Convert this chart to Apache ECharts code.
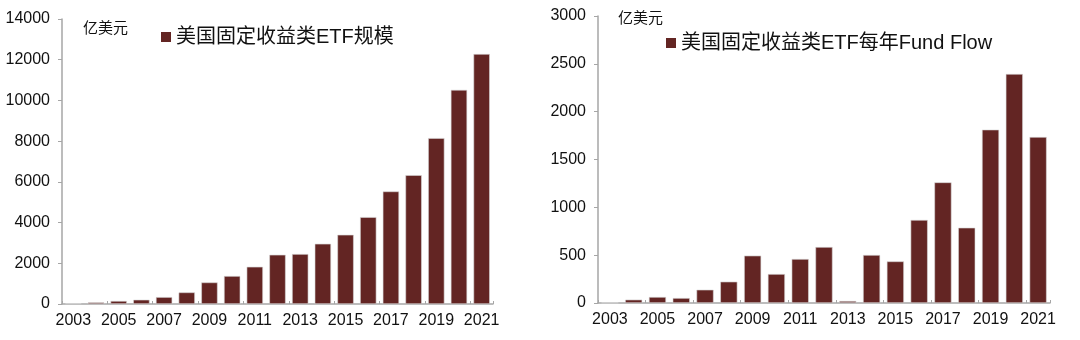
<!DOCTYPE html>
<html><head><meta charset="utf-8">
<script src="https://cdn.jsdelivr.net/npm/echarts@6/dist/echarts.min.js"></script>
<style>html,body{margin:0;padding:0;background:#fff}#c{width:1080px;height:340px}</style>
</head><body><div id="c"></div>
<script>
const years = ['2003','2004','2005','2006','2007','2008','2009','2010','2011','2012','2013','2014','2015','2016','2017','2018','2019','2020','2021'];
const aumValues = [30,80,150,210,340,570,1060,1375,1830,2420,2455,2960,3400,4270,5530,6330,8150,10520,12280];
const flowValues = [3,35,63,52,139,223,495,303,460,585,21,502,435,868,1261,787,1812,2394,1735];
const leftName = '美国固定收益类ETF规模';
const rightName = '美国固定收益类ETF每年Fund Flow';
const unit = '亿美元';

const FONT = '"Liberation Sans", Arial, "Noto Sans CJK SC", sans-serif';
const BAR = '#632523';
const AX = '#a6a6a6';

function xAxis(gi){
  return {type:'category', gridIndex:gi, data:years, boundaryGap:true,
    axisLine:{lineStyle:{color:AX,width:1.5}},
    axisTick:{show:true, inside:true, length:3, interval:1, lineStyle:{color:AX}},
    axisLabel:{interval:1, color:'#111', fontSize:16, fontFamily:FONT, margin:9}};
}
function yAxis(gi,max,step){
  return {type:'value', gridIndex:gi, min:0, max:max, interval:step,
    splitLine:{show:false},
    axisLine:{show:true, lineStyle:{color:AX,width:1.5}},
    axisTick:{show:true, length:4, lineStyle:{color:AX}},
    axisLabel:{color:'#111', fontSize:16, fontFamily:FONT, margin:12, formatter:(v)=>String(v)}};
}
const chart = echarts.init(document.getElementById('c'), null, {renderer:'canvas'});
chart.setOption({
  animation:false,
  textStyle:{fontFamily:FONT},
  grid:[{left:62, top:19, width:431, bottom:36},{left:598, top:16, width:452, bottom:37}],
  xAxis:[xAxis(0), xAxis(1)],
  yAxis:[yAxis(0,14000,2000), yAxis(1,3000,500)],
  title:[
    {text:unit, left:78, top:16, textStyle:{fontSize:15, fontWeight:'normal', color:'#111', fontFamily:FONT}},
    {text:unit, left:613, top:6, textStyle:{fontSize:15, fontWeight:'normal', color:'#111', fontFamily:FONT}}
  ],
  legend:[
    {data:[leftName], left:156, top:22, icon:'rect', itemWidth:10, itemHeight:10, itemGap:5,
      itemStyle:{borderWidth:0}, textStyle:{fontSize:20, color:'#111', fontFamily:FONT}},
    {data:[rightName], left:661, top:28, icon:'rect', itemWidth:10, itemHeight:10, itemGap:5,
      itemStyle:{borderWidth:0}, textStyle:{fontSize:20, color:'#111', fontFamily:FONT}}
  ],
  series:[
    {name:leftName, type:'bar', xAxisIndex:0, yAxisIndex:0, data:aumValues, barWidth:'72%',
      itemStyle:{color:BAR, borderColor:'#d9d9d9', borderWidth:0.6}},
    {name:rightName, type:'bar', xAxisIndex:1, yAxisIndex:1, data:flowValues, barWidth:'72%',
      itemStyle:{color:BAR, borderColor:'#d9d9d9', borderWidth:0.6}}
  ]
});
</script></body></html>
